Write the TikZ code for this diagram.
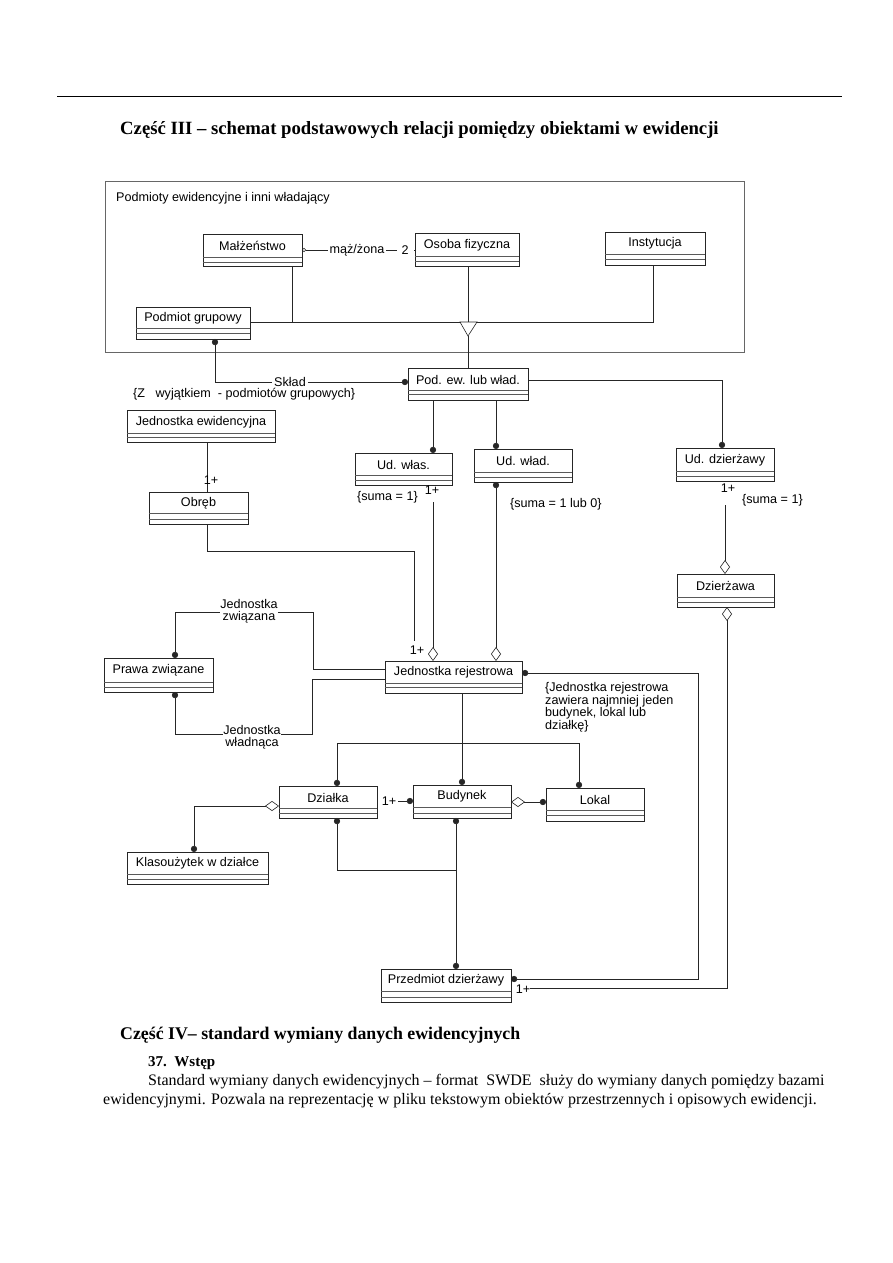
\documentclass[tikz,border=0pt]{standalone}
\usepackage{fontspec}
\setmainfont{Liberation Serif}
\setsansfont{Liberation Sans}
\usetikzlibrary{arrows.meta}
\tikzset{
  ln/.style={line width=0.6pt, draw=black!85},
  cls/.style={draw=black!85, line width=0.65pt, inner sep=0pt, outer sep=0pt, anchor=north west},
  sepl/.style={line width=0.5pt, draw=black!65},
  txt/.style={font=\sffamily\fontsize{12.6}{11.6}\selectfont, inner sep=0pt, text=black},
  lab/.style={txt, fill=white, inner xsep=2pt, inner ysep=0pt},
  Dt/.tip={Circle[length=6.2pt]},
  Dm/.tip={Diamond[open,length=14pt,width=10pt]},
  Oc/.tip={Circle[open,length=4pt]},
}
\newcommand{\umlbox}[8]{%
  \node[cls, minimum width={#4-#2}, minimum height={#5-#3}] (#1) at (#2,#3) {};
  \draw[sepl] (#2,#6) -- (#4,#6) (#2,#7) -- (#4,#7);
  \node[txt] (#1-t) at ({(#2+#4)/2},{(#3+#6)/2+0.7}) {#8};
}
\begin{document}
\begin{tikzpicture}[x=1pt,y=-1pt]
\useasboundingbox (0,0) rectangle (893,1263);
\fill[white] (0,0) rectangle (893,1263);

\draw[line width=0.8pt] (57,96) -- (842,96);
\node[anchor=west, font=\bfseries\fontsize{18.7}{22}\selectfont, inner sep=0pt] (title) at (120,130) {Część III – schemat podstawowych relacji pomiędzy obiektami w ewidencji};

\node[draw=black!60, line width=0.5pt, minimum width=639, minimum height=171, anchor=north west, inner sep=0pt, outer sep=0pt] (frame) at (105,181) {};
\node[txt, anchor=west] (framet) at (116,198) {Podmioty ewidencyjne i inni\ władający};

\umlbox{malz}{203}{234}{302}{266}{257}{262}{Małżeństwo}
\umlbox{osoba}{415}{233}{519}{266}{256}{261}{Osoba fizyczna}
\umlbox{inst}{605}{232}{705}{265}{254}{259}{Instytucja}
\umlbox{grup}{136}{307}{250}{339}{328}{333}{Podmiot grupowy}
\umlbox{pod}{408}{368}{528}{400}{390}{394}{Pod. ew. lub wład.}
\umlbox{jew}{127}{410}{275}{442}{433}{437}{Jednostka ewidencyjna}
\umlbox{obreb}{149}{492}{248}{524}{513}{519}{Obręb}
\umlbox{udwlas}{355}{453}{452}{485}{475}{480}{Ud. włas.}
\umlbox{udwlad}{474}{449}{572}{482}{472}{477}{Ud. wład.}
\umlbox{uddz}{676}{448}{774}{481}{471}{476}{Ud. dzierżawy}
\umlbox{dzier}{677}{574}{774}{607}{597}{602}{Dzierżawa}
\umlbox{jr}{385}{661}{522}{693}{683}{687}{Jednostka rejestrowa}
\umlbox{prawa}{104}{658}{213}{692}{682}{687}{Prawa związane}
\umlbox{dzialka}{279}{786}{377}{818}{808}{813}{Działka}
\umlbox{bud}{413}{785}{511}{818}{807}{813}{Budynek}
\umlbox{lokal}{546}{788}{644}{821}{810}{815}{Lokal}
\umlbox{klas}{127}{852}{268}{884}{874}{879}{Klasoużytek w działce}
\umlbox{przed}{381}{969}{511}{1002}{991}{997}{Przedmiot dzierżawy}

% malzenstwo - osoba
\draw[ln, Oc-] (malz.east |- 0,250) -- (osoba.west |- 0,250);
\node[lab] (mz) at (357,250) {mąż/żona};
\node[lab, inner xsep=5pt] (mz2) at (405,250) {2};

% generalization
\draw[ln] (292,0 |- malz.south) -- (292,322);
\draw[ln] (grup.east |- 0,322) -- (653,322) -- (653,0 |- inst.south);
\draw[ln] (468,0 |- osoba.south) -- (468,322);
\draw[ln, fill=white] (460,322) -- (477,322) -- (468,336) -- cycle;
\coordinate (tri) at (468,336);
\draw[ln] (tri) -- (468,0 |- pod.north);

% sklad
\draw[ln, Dt-Dt] (215,0 |- grup.south) -- (215,382) -- (pod.west |- 0,382);
\node[lab] (sklad) at (290,382) {Skład};
\node[txt, anchor=west] (zw) at (133,394) {\{Z\ \ \ wyjątkiem\ \ - podmiotów grupowych\}};

% jednostka ewidencyjna - obreb
\draw[ln] (207,0 |- jew.south) -- (207,0 |- obreb.north);
\node[txt] (j1) at (211,480) {1+};

% obreb - jr
\coordinate (jrin) at (414,641);
\draw[ln] (207,0 |- obreb.south) -- (207,551) -- (414,551) -- (jrin);
\node[txt] (jr1) at (417,650) {1+};

% pod - ud
\draw[ln, -Dt] (433,0 |- pod.south) -- (433,0 |- udwlas.north);
\draw[ln, -Dt] (496,0 |- pod.south) -- (496,0 |- udwlad.north);
\draw[ln, -Dt] (pod.east |- 0,380) -- (722,380) -- (722,0 |- uddz.north);

% ud wlas - jr
\node[txt] (uw1) at (432,490) {1+};
\node[txt, anchor=west] (uws) at (357,497) {\{suma = 1\}};
\draw[ln, -Dm] (433,502) -- (433,0 |- jr.north);

% ud wlad - jr
\draw[ln, Dt-Dm] (496,0 |- udwlad.south) -- (496,0 |- jr.north);
\node[txt, anchor=west] (uds) at (510,504) {\{suma = 1 lub 0\}};

% ud dzierzawy - dzierzawa
\node[txt] (ud1) at (728,488) {1+};
\node[txt, anchor=west] (uzs) at (742,500) {\{suma = 1\}};
\draw[ln, -Dm] (725,505) -- (725,0 |- dzier.north);

% dzierzawa - przedmiot
\node[txt] (p1) at (523,989) {1+};
\draw[ln, Dm-] (727,0 |- dzier.south) -- (727,988) -- (p1.east |- 0,988);

% jr - przedmiot
\draw[ln, Dt-Dt] (jr.east |- 0,673) -- (698,673) -- (698,979) -- (przed.east |- 0,979);
\node[txt, anchor=north west, align=left] (jrnote) at (545,682) {\{Jednostka rejestrowa\\zawiera najmniej jeden\\budynek, lokal lub\\działkę\}};

% prawa zwiazane
\node[txt, align=center] (jz) at (249,611) {Jednostka\\związana};
\draw[ln, Dt-] (175,0 |- prawa.north) -- (175,612) -- (jz.west |- 0,612);
\draw[ln] (jz.east |- 0,612) -- (313,612) -- (313,669) -- (jr.west |- 0,669);
\node[txt, align=center] (jw) at (252,737) {Jednostka\\władnąca};
\draw[ln, Dt-] (175,0 |- prawa.south) -- (175,734) -- (jw.west |- 0,734);
\draw[ln] (jw.east |- 0,734) -- (312,734) -- (312,679) -- (jr.west |- 0,679);

% lower part
\draw[ln, -Dt] (462,0 |- jr.south) -- (462,0 |- bud.north);
\draw[ln, Dt-Dt] (337,0 |- dzialka.north) -- (337,743) -- (579,743) -- (579,0 |- lokal.north);
\node[txt] (d1) at (389,801) {1+};
\draw[ln, -Dt] (d1.east |- 0,801) ++(2,0) -- (bud.west |- 0,801);
\draw[ln, Dm-Dt] (bud.east |- 0,802) -- (lokal.west |- 0,802);
\draw[ln, Dm-Dt] (dzialka.west |- 0,806) -- (194,806) -- (194,0 |- klas.north);
\draw[ln, Dt-] (337,0 |- dzialka.south) -- (337,870) -- (456,870);
\draw[ln, Dt-Dt] (456,0 |- bud.south) -- (456,0 |- przed.north);

% bottom text
\node[anchor=west, font=\bfseries\fontsize{17.8}{21}\selectfont, inner sep=0pt] (h4) at (120,1035) {Część IV– standard wymiany danych ewidencyjnych};
\node[anchor=west, font=\bfseries\fontsize{15}{17}\selectfont, inner sep=0pt] (s37) at (148,1063) {37.\ \ Wstęp};
\node[anchor=west, font=\fontsize{16}{18}\selectfont, inner sep=0pt] (par1) at (148,1082) {Standard wymiany danych ewidencyjnych – format\ \ SWDE\ \ służy do wymiany danych pomiędzy bazami};
\node[anchor=west, font=\fontsize{16}{18}\selectfont, inner sep=0pt] (par2) at (103,1101) {ewidencyjnymi. Pozwala na reprezentację w pliku tekstowym obiektów przestrzennych i opisowych ewidencji.};
\end{tikzpicture}
\end{document}
